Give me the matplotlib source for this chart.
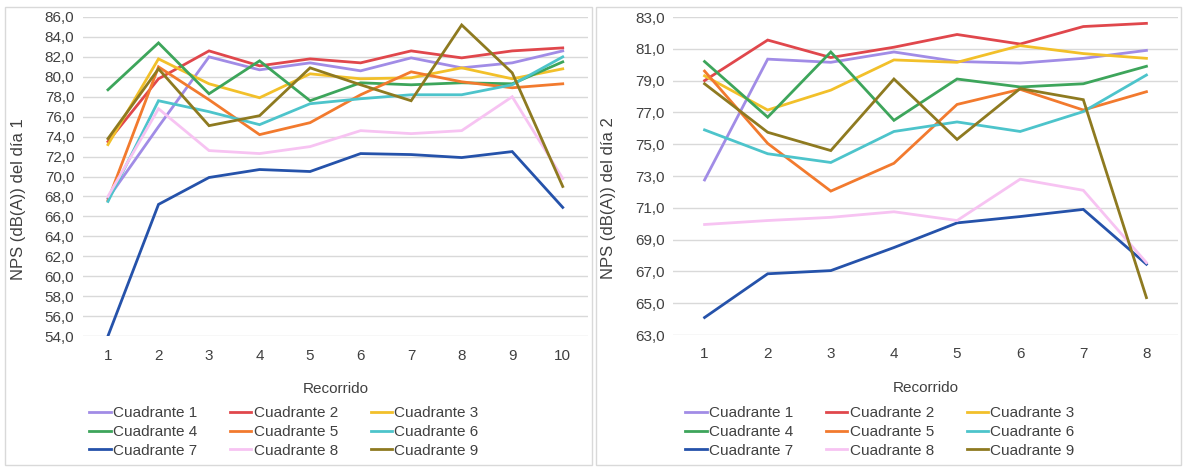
import matplotlib
matplotlib.use("Agg")
import matplotlib.pyplot as plt
from matplotlib.patches import Rectangle

plt.rcParams['font.family'] = ['Liberation Sans', 'DejaVu Sans']

series_names = [f"Cuadrante {i}" for i in range(1, 10)]
colors = ["#A18CE6", "#E0474C", "#F2C02A", "#3DA55B", "#F27A2E",
          "#4DC4CB", "#2552AA", "#F7C3F2", "#8E7A20"]

# Day 1 (recorridos 1..10)
x1 = list(range(1, 11))
d1_c1 = [67.8, 75.0, 82.0, 80.7, 81.4, 80.6, 81.9, 80.9, 81.4, 82.6]
d1_c2 = [73.5, 79.8, 82.6, 81.1, 81.8, 81.4, 82.6, 81.9, 82.6, 82.9]
d1_c3 = [73.2, 81.8, 79.3, 77.9, 80.3, 79.8, 79.9, 80.9, 79.8, 80.8]
d1_c4 = [78.7, 83.4, 78.3, 81.6, 77.6, 79.4, 79.2, 79.4, 79.3, 81.5]
d1_c5 = [67.6, 81.0, 77.7, 74.2, 75.4, 78.2, 80.5, 79.5, 78.9, 79.3]
d1_c6 = [67.5, 77.6, 76.5, 75.2, 77.3, 77.8, 78.2, 78.2, 79.2, 82.0]
d1_c7 = [54.0, 67.2, 69.9, 70.7, 70.5, 72.3, 72.2, 71.9, 72.5, 66.9]
d1_c8 = [68.0, 76.8, 72.6, 72.3, 73.0, 74.6, 74.3, 74.6, 78.0, 69.8]
d1_c9 = [73.8, 80.8, 75.1, 76.1, 80.9, 79.2, 77.6, 85.2, 80.4, 69.0]
day1 = [d1_c1, d1_c2, d1_c3, d1_c4, d1_c5, d1_c6, d1_c7, d1_c8, d1_c9]

# Day 2 (recorridos 1..8)
x2 = list(range(1, 9))
d2_c1 = [72.75, 80.35, 80.15, 80.8, 80.2, 80.1, 80.4, 80.9]
d2_c2 = [79.0, 81.55, 80.45, 81.1, 81.9, 81.3, 82.4, 82.6]
d2_c3 = [79.3, 77.15, 78.4, 80.3, 80.15, 81.2, 80.7, 80.4]
d2_c4 = [80.2, 76.7, 80.8, 76.5, 79.1, 78.6, 78.8, 79.9]
d2_c5 = [79.6, 75.05, 72.05, 73.8, 77.5, 78.45, 77.15, 78.3]
d2_c6 = [75.9, 74.4, 73.85, 75.8, 76.4, 75.8, 77.05, 79.35]
d2_c7 = [64.1, 66.85, 67.05, 68.5, 70.05, 70.45, 70.9, 67.45]
d2_c8 = [69.95, 70.2, 70.4, 70.75, 70.2, 72.8, 72.1, 67.55]
d2_c9 = [78.8, 75.75, 74.6, 79.1, 75.3, 78.5, 77.8, 65.35]
day2 = [d2_c1, d2_c2, d2_c3, d2_c4, d2_c5, d2_c6, d2_c7, d2_c8, d2_c9]

W, H = 1184, 468
fig = plt.figure(figsize=(W / 100, H / 100), dpi=100)

# panel borders
for (x0, x1_) in [(5, 592), (596, 1181)]:
    fig.patches.append(Rectangle((x0 / W, 3 / H), (x1_ - x0) / W, (H - 10) / H,
                                 transform=fig.transFigure, fill=False,
                                 edgecolor="#D9D9D9", linewidth=1.0))

text_col = "#404040"


def style(ax, xs, ylim, yticks, ylabel):
    ax.set_xlim(0.5, len(xs) + 0.5)
    ax.set_ylim(*ylim)
    ax.set_yticks(yticks)
    ax.set_yticklabels([f"{v:.1f}".replace(".", ",") for v in yticks])
    ax.set_xticks(xs)
    ax.set_xticklabels([str(v) for v in xs])
    ax.grid(axis="y", color="#D9D9D9", linewidth=1.0)
    ax.set_axisbelow(True)
    for s in ax.spines.values():
        s.set_visible(False)
    ax.tick_params(axis="both", length=0, labelsize=11, colors=text_col, pad=6)
    ax.tick_params(axis="x", pad=9)
    ax.set_ylabel(ylabel, fontsize=12, color=text_col)
    ax.yaxis.set_label_coords(-0.113, 0.43)
    ax.set_xlabel("Recorrido", fontsize=11, color=text_col, labelpad=14)


ax1 = fig.add_axes([82.7 / W, 1 - 336 / H, (588 - 82.7) / W, (336 - 17) / H])
for name, vals, c in zip(series_names, day1, colors):
    ax1.plot(x1, vals, color=c, linewidth=2.0, label=name, solid_joinstyle="miter")
style(ax1, x1, (54, 86), [54 + 2 * i for i in range(17)], "NPS (dB(A)) del día 1")

ax2 = fig.add_axes([673 / W, 1 - 335 / H, (1178 - 673) / W, (335 - 17) / H])
for name, vals, c in zip(series_names, day2, colors):
    ax2.plot(x2, vals, color=c, linewidth=2.0, label=name, solid_joinstyle="miter")
style(ax2, x2, (63, 83), [63 + 2 * i for i in range(11)], "NPS (dB(A)) del día 2")

for ax, cx in [(ax1, 284 / W), (ax2, 880 / W)]:
    handles, labels = ax.get_legend_handles_labels()
    # reorder for row-major filling with ncol=3
    order = [0, 3, 6, 1, 4, 7, 2, 5, 8]
    leg = fig.legend([handles[i] for i in order], [labels[i] for i in order],
                     ncol=3, loc="center", bbox_to_anchor=(cx, 1 - 432 / H),
                     frameon=False, fontsize=11, handlelength=1.4,
                     handletextpad=0.15, columnspacing=2.15, labelspacing=0.3,
                     borderaxespad=0)
    for t in leg.get_texts():
        t.set_color(text_col)

fig.savefig("out.png", dpi=100)
